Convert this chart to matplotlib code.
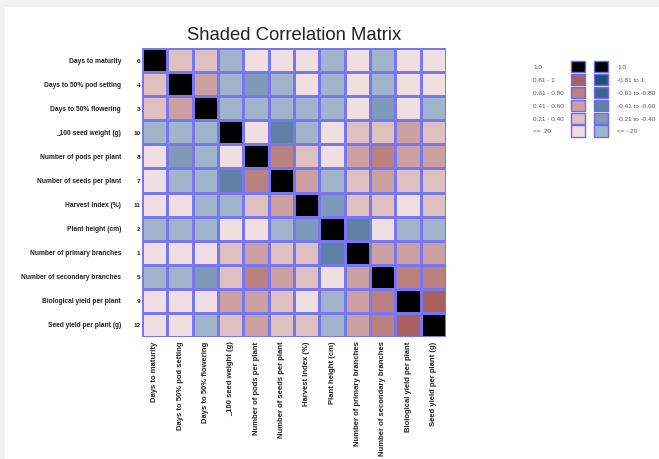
import numpy as np
import matplotlib
matplotlib.use("Agg")
import matplotlib.pyplot as plt
from matplotlib.colors import ListedColormap, BoundaryNorm
from matplotlib.patches import Rectangle

plt.rcParams['font.family'] = ['Liberation Sans', 'DejaVu Sans']

# traits, in the order they appear in the matrix, with their id numbers
traits = ["Days to maturity", "Days to 50% pod setting", "Days to 50% flowering",
          "_100 seed weight (g)", "Number of pods per plant", "Number of seeds per plant",
          "Harvest Index (%)", "Plant height (cm)", "Number of primary branches",
          "Number of secondary branches", "Biological yield per plant", "Seed yield per plant (g)"]
trait_ids = [6, 4, 3, 10, 8, 7, 11, 2, 1, 5, 9, 12]

# correlation coefficients (estimated from the shading classes)
corr = np.array([
    [1.00, 0.28, 0.30, -0.12, 0.08, 0.10, 0.06, -0.15, 0.09, -0.14, 0.07, 0.05],
    [0.28, 1.00, 0.47, -0.10, -0.32, -0.16, 0.11, -0.13, 0.08, -0.12, 0.10, 0.09],
    [0.30, 0.47, 1.00, -0.14, -0.15, -0.11, -0.13, -0.17, 0.06, -0.34, 0.08, -0.16],
    [-0.12, -0.10, -0.14, 1.00, 0.12, -0.52, -0.15, 0.10, 0.27, 0.29, 0.48, 0.31],
    [0.08, -0.32, -0.15, 0.12, 1.00, 0.68, 0.33, 0.11, 0.52, 0.66, 0.50, 0.49],
    [0.10, -0.16, -0.11, -0.52, 0.68, 1.00, 0.46, -0.13, 0.30, 0.45, 0.32, 0.28],
    [0.06, 0.11, -0.13, -0.15, 0.33, 0.46, 1.00, -0.36, 0.29, 0.31, 0.12, 0.30],
    [-0.15, -0.13, -0.17, 0.10, 0.11, -0.13, -0.36, 1.00, -0.53, 0.09, -0.16, -0.14],
    [0.09, 0.08, 0.06, 0.27, 0.52, 0.30, 0.29, -0.53, 1.00, 0.49, 0.51, 0.50],
    [-0.14, -0.12, -0.34, 0.29, 0.66, 0.45, 0.31, 0.09, 0.49, 1.00, 0.67, 0.65],
    [0.07, 0.10, 0.08, 0.48, 0.50, 0.32, 0.12, -0.16, 0.51, 0.67, 1.00, 0.84],
    [0.05, 0.09, -0.16, 0.31, 0.49, 0.28, 0.30, -0.14, 0.50, 0.65, 0.84, 1.00],
])

# legend classes
pos_labels = ["1.0", "0.81 - 1", "0.61 - 0.80", "0.41 - 0.60", "0.21 - 0.40", "<= .20"]
neg_labels = ["1.0", "-0.81 to 1", "-0.61 to -0.80", "-0.41 to -0.60", "-0.21 to -0.40", "<= -.20"]
pos_colors = ["#000000", "#a86060", "#bb8080", "#cca0a0", "#dfc0c0", "#f0dfe0"]
neg_colors = ["#000000", "#234e78", "#416790", "#6080a6", "#8099b8", "#a0b4cc"]

bounds = [-1.0, -0.8, -0.6, -0.4, -0.2, 0.0, 0.2, 0.4, 0.6, 0.8, 0.995, 1.01]
cmap = ListedColormap(neg_colors[1:] + pos_colors[::-1])
norm = BoundaryNorm(bounds, cmap.N)

fig = plt.figure(figsize=(6.59, 4.6), dpi=100)
# faint grey frame at top/left like the screenshot
fig.patches.append(Rectangle((0, 1 - 8/460), 1, 8/460, transform=fig.transFigure,
                             facecolor="#f1f1f1", edgecolor="none"))
fig.patches.append(Rectangle((0, 0), 5/659, 1, transform=fig.transFigure,
                             facecolor="#f1f1f1", edgecolor="none"))

ax = fig.add_axes([142/659, (460-338)/460, 304/659, 289/460])
n = len(traits)
ax.pcolormesh(np.arange(n+1), np.arange(n+1), corr, cmap=cmap, norm=norm,
              edgecolors="#7777f2", linewidth=0.9)
ax.set_xlim(0, n)
ax.set_ylim(n, 0)
ax.set_xticks([])
ax.set_yticks([])
for s in ax.spines.values():
    s.set_visible(False)

ytr = ax.get_yaxis_transform()
xtr = ax.get_xaxis_transform()
for i, (name, tid) in enumerate(zip(traits, trait_ids)):
    ax.text(-0.069, i + 0.5, name, transform=ytr, ha="right", va="center",
            fontsize=4.8, fontweight="bold", color="#222222")
    ax.text(-0.005, i + 0.5, str(tid), transform=ytr, ha="right", va="center",
            fontsize=4.6, fontweight="bold", color="#222222")
    ax.text(i + 0.5, -0.012, name, transform=xtr, rotation=90, ha="center", va="top",
            fontsize=5.5, fontweight="bold", color="#222222")

fig.text(294/659, 1 - 35/460, "Shaded Correlation Matrix", ha="center", va="center",
         fontsize=13.3, color="#222222")

# legend drawn in pixel coordinates
lg = fig.add_axes([0, 0, 1, 1], zorder=-1)
lg.set_xlim(0, 659)
lg.set_ylim(460, 0)
lg.axis("off")
for k in range(len(pos_labels)):
    yc = 67.5 + k * 12.9
    lg.add_patch(Rectangle((570.5, yc - 5.6), 14, 11.2, facecolor=pos_colors[k],
                           edgecolor="#6a6af5", linewidth=1.0))
    lg.add_patch(Rectangle((593.5, yc - 5.6), 14, 11.2, facecolor=neg_colors[k],
                           edgecolor="#6a6af5", linewidth=1.0))
    lg.text(533, yc, pos_labels[k], ha="left", va="center", fontsize=4.6, color="#555555")
    lg.text(617, yc, neg_labels[k], ha="left", va="center", fontsize=4.6, color="#555555")

fig.savefig("out.png", dpi=100)
